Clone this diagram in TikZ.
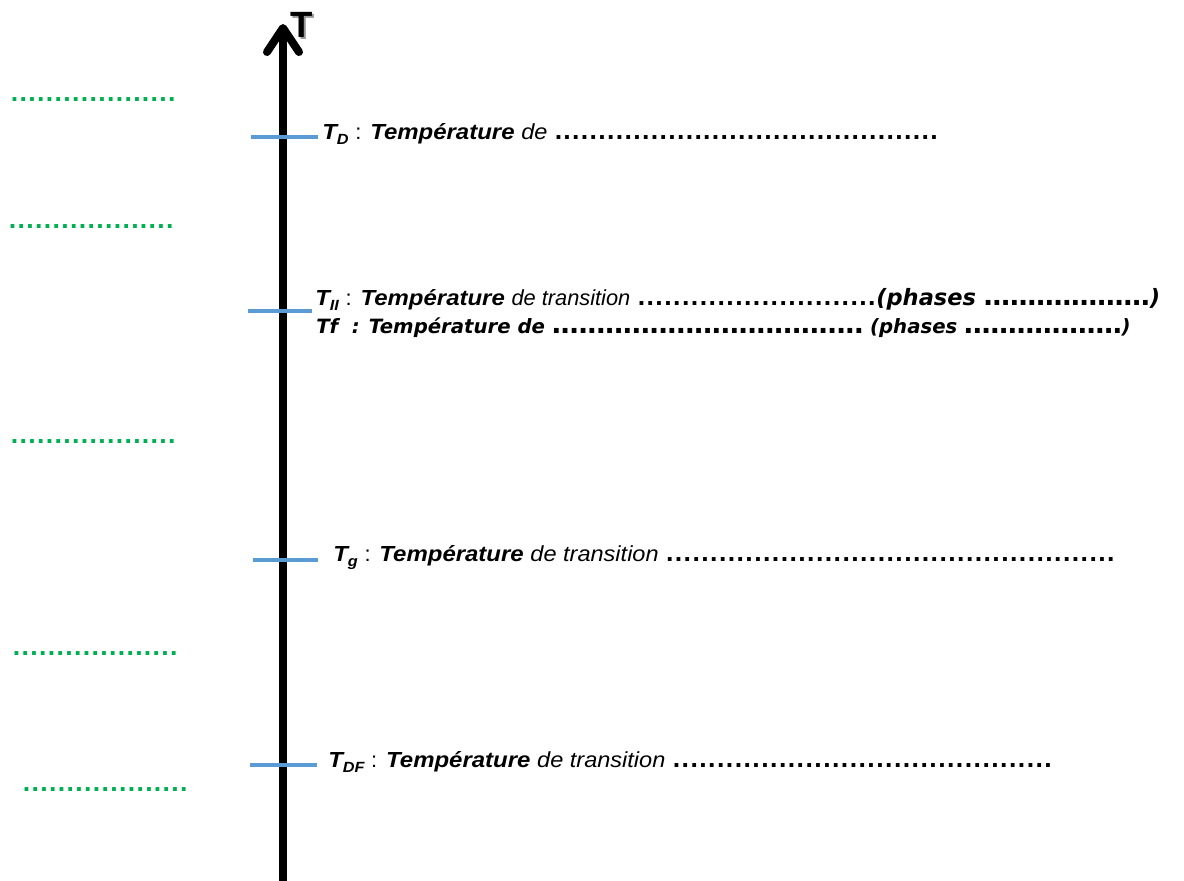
\documentclass[tikz,border=0pt]{standalone}
\usepackage{fontspec}
\setmainfont{Liberation Sans}[
  ItalicFeatures={FakeStretch=1.08},
  BoldItalicFeatures={FakeStretch=1.1}]
\newfontfamily\arialfont{Liberation Sans}
\newfontfamily\verdanafont{DejaVu Sans}
\usetikzlibrary{arrows.meta}
\definecolor{bleuTrait}{HTML}{5B9BD5}
\definecolor{vertPoint}{HTML}{00B050}
\newcommand\remplir{\xleaders\hbox to 6.2pt{\hss\fontsize{19pt}{19pt}\selectfont\bfseries\upshape.\hss}\hfill}
\newcommand\pointilles[1]{\hbox to #1{\remplir}}
\newcommand\indice[1]{\raisebox{-0.45ex}{\fontsize{10.5pt}{10.5pt}\selectfont #1}}
\tikzset{
  graduation/.style={draw=bleuTrait, line width=2.6pt},
  legende/.style={anchor=base west, inner sep=0pt,
    font=\fontsize{15.5pt}{17pt}\selectfont\bfseries\itshape},
  blanc/.style={anchor=base west, inner sep=0pt, text=vertPoint,
    font=\fontsize{15.5pt}{17pt}\selectfont\bfseries\itshape},
}
\begin{document}
\begin{tikzpicture}[x=0.025cm, y=-0.025cm]
  \useasboundingbox (0,0) rectangle (1184,881);
  % axe des temperatures
  \coordinate (bas) at (283,881);
  \coordinate (haut) at (283,24);
  \draw[line width=5.7pt, line cap=butt,
    -{Straight Barb[length=0.6cm, width=0.8cm, round]}] (bas) -- (haut);
  \node[anchor=base west, inner sep=0pt, text=black!40,
    font=\fontsize{26pt}{26pt}\selectfont\bfseries] (ombreT) at (292,39) {T};
  \node[anchor=base west, inner sep=0pt,
    font=\fontsize{26pt}{26pt}\selectfont\bfseries] (titreT) at (290,37) {T};
  % graduations
  \draw[graduation] (251,137) coordinate (gD) -- (318,137) coordinate (dD);
  \draw[graduation] (248,311) coordinate (gII) -- (312,311) coordinate (dII);
  \draw[graduation] (253,560) coordinate (gg) -- (318,560) coordinate (dg);
  \draw[graduation] (250,765) coordinate (gDF) -- (317,765) coordinate (dDF);
  % legendes
  \node[legende] (TD) at (322,139) {\hbox to 438pt{T\indice{D}
    {\mdseries\upshape :} Température {\mdseries de} \remplir}};
  \node[legende] (TII) at (315,305) {\hbox to 399pt{T\indice{II}
    {\mdseries\upshape :} Température
    {\arialfont\mdseries\itshape de transition} \remplir}%
    {\verdanafont\fontsize{16pt}{17pt}\selectfont (phases \pointilles{118pt})}};
  \node[legende, font=\fontsize{14pt}{16pt}\selectfont\verdanafont\bfseries\itshape]
    (Tf) at (316,333) {\hbox to 389pt{Tf\ \ : Température de \remplir}%
    \ (phases \pointilles{112pt})};
  \node[legende] (Tg) at (333,561) {\hbox to 556pt{T\indice{g}
    {\mdseries\upshape :} Température {\mdseries de transition} \remplir}};
  \node[legende] (TDF) at (328,767) {\hbox to 515pt{T\indice{DF}
    {\mdseries\upshape :} Température {\mdseries de transition} \remplir}};
  % zones a completer
  \node[blanc] (z1) at (10,101) {\pointilles{118pt}};
  \node[blanc] (z2) at (8,228) {\pointilles{118pt}};
  \node[blanc] (z3) at (10,443) {\pointilles{118pt}};
  \node[blanc] (z4) at (12,655) {\pointilles{118pt}};
  \node[blanc] (z5) at (22,791) {\pointilles{118pt}};
\end{tikzpicture}
\end{document}
